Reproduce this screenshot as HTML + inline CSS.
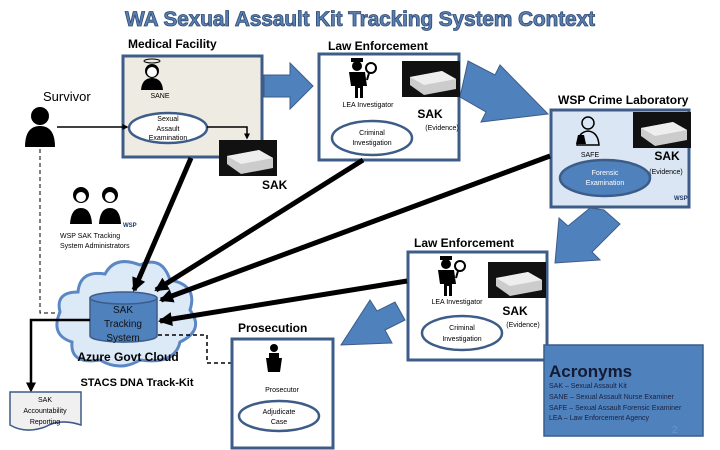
<!DOCTYPE html>
<html><head><meta charset="utf-8"><style>
body{margin:0;background:#fff;}
svg{display:block;font-family:"Liberation Sans",sans-serif;}
</style></head><body>
<svg width="720" height="450" viewBox="0 0 720 450" xmlns="http://www.w3.org/2000/svg">
<defs>
<marker id="ah" markerWidth="4" markerHeight="4" refX="3" refY="2" orient="auto"><path d="M0,0L4,2L0,4z" fill="#000"/></marker>
<marker id="as" markerWidth="14" markerHeight="14" refX="12" refY="7" orient="auto" markerUnits="userSpaceOnUse"><path d="M0,0L14,7L0,14z" fill="#000"/></marker>
<g id="sak"><rect width="58" height="36" fill="#111"/><path d="M8,16L40,10L54,18L54,28L22,34L8,24z" fill="#ccc"/><path d="M8,16L40,10L54,18L22,24z" fill="#eee"/></g>
<g id="lea"><circle cx="14" cy="10" r="5" fill="#000"/><rect x="8" y="2" width="12" height="4" fill="#000"/><path d="M6,16h16l2,14h-4v12h-3v-10h-2v10h-3v-12h-4z" fill="#000"/><circle cx="28" cy="12" r="5" fill="none" stroke="#000" stroke-width="2"/><line x1="26" y1="17" x2="24" y2="24" stroke="#000" stroke-width="2"/></g>
</defs>

<text x="360" y="26" text-anchor="middle" font-size="21" font-weight="bold" fill="#5b7fb0" stroke="#2d4a73" stroke-width="0.8" textLength="470">WA Sexual Assault Kit Tracking System Context</text>

<text x="128" y="48" font-size="12" font-weight="bold">Medical Facility</text>
<rect x="123" y="56" width="139" height="101" fill="#eeebe3" stroke="#3d5c88" stroke-width="3"/>
<g transform="translate(140,58)"><ellipse cx="12" cy="3" rx="8" ry="2" fill="none" stroke="#000"/><circle cx="12" cy="13" r="7" fill="#000"/><circle cx="12" cy="14" r="5" fill="#fff"/><path d="M1,32Q2,20 12,20Q22,20 23,32z" fill="#000"/></g>
<text x="160" y="98" font-size="7" text-anchor="middle">SANE</text>
<ellipse cx="168" cy="128" rx="39" ry="15" fill="#fff" stroke="#3d5c88" stroke-width="2.5"/>
<text font-size="7" text-anchor="middle"><tspan x="168" y="121">Sexual</tspan><tspan x="168" y="131">Assault</tspan><tspan x="168" y="140">Examination</tspan></text>
<polyline points="207,127 247,127 247,138" fill="none" stroke="#000" stroke-width="1.5" marker-end="url(#ah)"/>
<use href="#sak" transform="translate(219,140)"/>
<text x="262" y="189" font-size="12" font-weight="bold">SAK</text>

<text x="43" y="101" font-size="13">Survivor</text>
<circle cx="40" cy="116" r="9" fill="#000"/><path d="M25,147Q25,126 40,126Q55,126 55,147z" fill="#000"/>
<line x1="57" y1="127" x2="127" y2="127" stroke="#000" stroke-width="1.5" marker-end="url(#ah)"/>
<polyline points="40,149 40,313 90,313" fill="none" stroke="#000" stroke-width="1" stroke-dasharray="4,3"/>

<path d="M264,75L290,75L290,63L313,86L290,109L290,97L264,97z" fill="#4f81bd" stroke="#3d5c88"/>
<path d="M468,61L495,75L500,65L548,114L481,122L486,112L460,97z" fill="#4f81bd" stroke="#3d5c88"/>
<path d="M604,210L620,224L592,252L600,260L555,263L559,218L568,226L590,208z" fill="#4f81bd" stroke="#3d5c88"/>
<path d="M395,302L405,320L385,330L392,343L341,345L370,300L377,311z" fill="#4f81bd" stroke="#3d5c88"/>

<text x="328" y="50" font-size="12" font-weight="bold">Law Enforcement</text>
<rect x="319" y="54" width="140" height="106" fill="#fff" stroke="#3d5c88" stroke-width="3"/>
<use href="#lea" transform="translate(343,56)"/>
<text x="368" y="107" font-size="7" text-anchor="middle">LEA Investigator</text>
<use href="#sak" transform="translate(402,61)"/>
<text x="430" y="118" font-size="12" font-weight="bold" text-anchor="middle">SAK</text>
<text x="442" y="130" font-size="7" text-anchor="middle">(Evidence)</text>
<ellipse cx="372" cy="138" rx="40" ry="17" fill="#fff" stroke="#3d5c88" stroke-width="2.5"/>
<text font-size="7" text-anchor="middle"><tspan x="372" y="135">Criminal</tspan><tspan x="372" y="145">Investigation</tspan></text>

<text x="558" y="104" font-size="12" font-weight="bold">WSP Crime Laboratory</text>
<rect x="551" y="110" width="138" height="97" fill="#dbe6f4" stroke="#3d5c88" stroke-width="3"/>
<g transform="translate(575,115)"><circle cx="13" cy="8" r="6" fill="none" stroke="#000" stroke-width="1.5"/><path d="M2,30Q3,17 13,16Q23,17 24,30z" fill="none" stroke="#000" stroke-width="1.5"/><path d="M3,20h6l2,9h-10z" fill="#000"/></g>
<text x="590" y="157" font-size="7" text-anchor="middle">SAFE</text>
<use href="#sak" transform="translate(633,112)"/>
<text x="667" y="160" font-size="12" font-weight="bold" text-anchor="middle">SAK</text>
<text x="666" y="174" font-size="7" text-anchor="middle">(Evidence)</text>
<ellipse cx="605" cy="178" rx="45" ry="18" fill="#4f81bd" stroke="#3d5c88" stroke-width="2.5"/>
<text font-size="7" text-anchor="middle" fill="#fff"><tspan x="605" y="175">Forensic</tspan><tspan x="605" y="185">Examination</tspan></text>
<text x="674" y="200" font-size="6" font-weight="bold" fill="#1f3864">WSP</text>

<text x="414" y="247" font-size="12" font-weight="bold">Law Enforcement</text>
<rect x="408" y="252" width="139" height="108" fill="#fff" stroke="#3d5c88" stroke-width="3"/>
<use href="#lea" transform="translate(432,254)"/>
<text x="457" y="304" font-size="7" text-anchor="middle">LEA Investigator</text>
<use href="#sak" transform="translate(488,262)"/>
<text x="515" y="315" font-size="12" font-weight="bold" text-anchor="middle">SAK</text>
<text x="523" y="327" font-size="7" text-anchor="middle">(Evidence)</text>
<ellipse cx="462" cy="333" rx="40" ry="17" fill="#fff" stroke="#3d5c88" stroke-width="2.5"/>
<text font-size="7" text-anchor="middle"><tspan x="462" y="330">Criminal</tspan><tspan x="462" y="341">Investigation</tspan></text>

<g transform="translate(70,186)"><circle cx="11" cy="9" r="8" fill="#000"/><circle cx="11" cy="11" r="5" fill="#fff"/><path d="M0,38Q1,22 11,22Q21,22 22,38z" fill="#000"/><circle cx="40" cy="9" r="8" fill="#000"/><circle cx="40" cy="11" r="5" fill="#fff"/><path d="M29,38Q30,22 40,22Q50,22 51,38z" fill="#000"/></g>
<text x="123" y="227" font-size="6" font-weight="bold" fill="#1f3864">WSP</text>
<text font-size="7"><tspan x="60" y="238">WSP SAK Tracking</tspan><tspan x="60" y="248">System Administrators</tspan></text>

<path d="M72,342Q50,335 60,312Q55,292 78,292Q80,270 105,274Q115,255 140,265Q162,255 170,280Q198,285 190,310Q205,330 180,342Q175,365 140,360Q120,372 100,360Q70,365 72,342z" fill="#dce9f7" stroke="#5b87c5" stroke-width="3"/>
<path d="M90,298V336A33,6 0 0 0 157,336V298z" fill="#4f81bd" stroke="#3d5c88" stroke-width="1.5"/>
<ellipse cx="123.5" cy="298" rx="33.5" ry="6" fill="#5b8ccb" stroke="#3d5c88" stroke-width="1.5"/>
<text font-size="10" text-anchor="middle" fill="#111"><tspan x="123" y="313">SAK</tspan><tspan x="123" y="327">Tracking</tspan><tspan x="123" y="341">System</tspan></text>
<text x="128" y="361" font-size="12" font-weight="bold" text-anchor="middle">Azure Govt Cloud</text>
<text x="137" y="386" font-size="11" font-weight="bold" text-anchor="middle">STACS DNA Track-Kit</text>

<g stroke="#000" stroke-width="5" marker-end="url(#as)">
<line x1="191" y1="158" x2="134" y2="290"/>
<line x1="363" y1="160" x2="156" y2="290"/>
<line x1="550" y1="156" x2="161" y2="300"/>
<line x1="407" y1="281" x2="160" y2="321"/>
</g>

<polyline points="90,320 31,320 31,390" fill="none" stroke="#000" stroke-width="2.5" marker-end="url(#ah)"/>
<path d="M10,392H81V425Q60,418 45,427Q25,434 10,425z" fill="#f0f0f0" stroke="#3d5c88" stroke-width="1.5"/>
<text font-size="7" text-anchor="middle"><tspan x="45" y="402">SAK</tspan><tspan x="45" y="413">Accountability</tspan><tspan x="45" y="424">Reporting</tspan></text>

<polyline points="158,335 207,335 207,363 254,363" fill="none" stroke="#000" stroke-width="1.5" stroke-dasharray="4,3" marker-end="url(#ah)"/>
<text x="238" y="332" font-size="12" font-weight="bold">Prosecution</text>
<rect x="232" y="339" width="101" height="109" fill="#fff" stroke="#3d5c88" stroke-width="3"/>
<g transform="translate(266,344)"><circle cx="8" cy="4" r="4" fill="#000"/><rect x="3" y="9" width="10" height="6" fill="#000"/><path d="M0,14h16l-2,14h-12z" fill="#000"/></g>
<text x="282" y="392" font-size="7" text-anchor="middle">Prosecutor</text>
<ellipse cx="279" cy="416" rx="40" ry="15" fill="#fff" stroke="#3d5c88" stroke-width="2.5"/>
<text font-size="7" text-anchor="middle"><tspan x="279" y="414">Adjudicate</tspan><tspan x="279" y="424">Case</tspan></text>

<rect x="544" y="345" width="159" height="91" fill="#4f81bd" stroke="#385d8a" stroke-width="1.5"/>
<text x="549" y="377" font-size="17" font-weight="bold" fill="#141a33">Acronyms</text>
<text font-size="7" fill="#1a2140"><tspan x="549" y="388">SAK – Sexual Assault Kit</tspan><tspan x="549" y="399">SANE – Sexual Assault Nurse Examiner</tspan><tspan x="549" y="410">SAFE – Sexual Assault Forensic Examiner</tspan><tspan x="549" y="420">LEA – Law Enforcement Agency</tspan></text>
<text x="672" y="433" font-size="10" fill="#6f95c8">2</text>
</svg>
</body></html>
